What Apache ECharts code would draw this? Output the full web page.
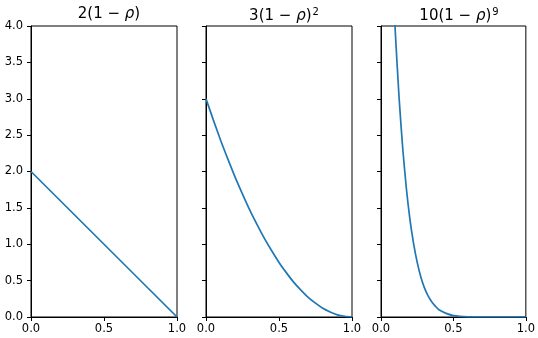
<!DOCTYPE html>
<html>
<head>
<meta charset="utf-8">
<script src="https://cdn.jsdelivr.net/npm/echarts@6/dist/echarts.min.js"></script>
<style>
  html, body { margin: 0; padding: 0; background: #fff; }
  #chart { width: 538px; height: 338px; }
</style>
</head>
<body>
<div id="chart"></div>
<script>
// values
const xTicks = [0, 0.5, 1.0];
const yTicks = [0, 0.5, 1, 1.5, 2, 2.5, 3, 3.5, 4];

const linX = [0, 0.5, 1.0];
const linY = [2.0, 1.0, 0.0];

const quadX = [0, 0.05, 0.1, 0.15, 0.2, 0.25, 0.3, 0.35, 0.4, 0.45, 0.5,
  0.55, 0.6, 0.65, 0.7, 0.75, 0.8, 0.85, 0.9, 0.95, 1.0];
const quadY = [3.0, 2.71, 2.43, 2.17, 1.92, 1.69, 1.47, 1.27, 1.08, 0.91, 0.75,
  0.61, 0.48, 0.37, 0.27, 0.19, 0.12, 0.07, 0.03, 0.01, 0.0];

const powX = [0.09, 0.1, 0.125, 0.15, 0.175, 0.2, 0.225, 0.25, 0.275, 0.3,
  0.325, 0.35, 0.375, 0.4, 0.45, 0.5, 0.6, 0.7, 0.8, 0.9, 1.0];
const powY = [4.28, 3.87, 3.01, 2.32, 1.77, 1.34, 1.01, 0.75, 0.55, 0.40,
  0.29, 0.21, 0.15, 0.10, 0.05, 0.02, 0.003, 0.0002, 0, 0, 0];

const panels = [
  { left: 31, xs: linX, ys: linY, title: '{n|2(1 − }{i|ρ}{n|)}' },
  { left: 206, xs: quadX, ys: quadY, title: '{n|3(1 − }{i|ρ}{n|)}{s|2}' },
  { left: 381, xs: powX, ys: powY, title: '{n|10(1 − }{i|ρ}{n|)}{s|9}' }
];

const FONT = 'DejaVu Sans';
const richTitle = {
  n: { fontFamily: FONT, fontSize: 15, fontWeight: 'normal', color: '#000' },
  i: { fontFamily: FONT, fontSize: 15, fontWeight: 'normal', fontStyle: 'italic', color: '#000' },
  s: { fontFamily: FONT, fontSize: 10, fontWeight: 'normal', color: '#000', verticalAlign: 'top', padding: [0, 0, 8, 1] }
};

const chart = echarts.init(document.getElementById('chart'));

chart.setOption({
  animation: false,
  title: panels.map((p) => ({
    text: p.title,
    left: p.left + 73,
    top: 2,
    textAlign: 'center',
    textStyle: { fontWeight: 'normal', rich: richTitle }
  })),
  grid: panels.map((p) => ({
    left: p.left,
    top: 26,
    width: 146,
    height: 291,
    show: true,
    borderColor: '#000',
    borderWidth: 1,
    backgroundColor: '#fff'
  })),
  xAxis: panels.map((p, i) => ({
    type: 'value',
    gridIndex: i,
    min: 0,
    max: 1,
    interval: 0.5,
    axisLine: { show: true, lineStyle: { color: '#000', width: 1 } },
    axisTick: { show: true, length: 4, lineStyle: { color: '#000' } },
    splitLine: { show: false },
    axisLabel: {
      color: '#000',
      fontFamily: FONT,
      fontSize: 11.5,
      margin: 6,
      formatter: (v) => xTicks.includes(v) ? v.toFixed(1) : ''
    }
  })),
  yAxis: panels.map((p, i) => ({
    type: 'value',
    gridIndex: i,
    min: 0,
    max: 4,
    interval: 0.5,
    axisLine: { show: true, lineStyle: { color: '#000', width: 1 } },
    axisTick: { show: true, length: 4, lineStyle: { color: '#000' } },
    splitLine: { show: false },
    axisLabel: {
      show: i === 0,
      color: '#000',
      fontFamily: FONT,
      fontSize: 11.5,
      margin: 8,
      formatter: (v) => yTicks.includes(v) ? v.toFixed(1) : ''
    }
  })),
  series: panels.map((p, i) => ({
    type: 'line',
    xAxisIndex: i,
    yAxisIndex: i,
    data: p.xs.map((x, k) => [x, p.ys[k]]),
    showSymbol: false,
    smooth: i === 0 ? false : 0.25,
    clip: true,
    lineStyle: { color: '#1f77b4', width: 1.7 },
    itemStyle: { color: '#1f77b4' }
  }))
});
</script>
</body>
</html>
